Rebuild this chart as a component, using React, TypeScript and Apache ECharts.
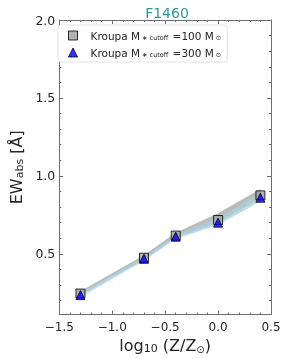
import React, { useEffect, useRef } from "react";
import * as echarts from "echarts";

const xValues = [-1.3, -0.7, -0.4, 0.0, 0.4];
const ew100 = [0.245, 0.475, 0.617, 0.717, 0.875];
const ew300 = [0.235, 0.468, 0.61, 0.7, 0.86];
const band100Hi = [0.26, 0.49, 0.635, 0.76, 0.915];
const band100Lo = [0.235, 0.465, 0.605, 0.7, 0.855];
const band300Hi = [0.25, 0.48, 0.622, 0.73, 0.89];
const band300Lo = [0.222, 0.455, 0.595, 0.685, 0.835];
const yMajorTicks = [0.5, 1.0, 1.5, 2.0];
const yMinorTicks = [0.2, 0.3, 0.4, 0.6, 0.7, 0.8, 0.9, 1.1, 1.2, 1.3, 1.4, 1.6, 1.7, 1.8, 1.9];
const legendNames = ["Kroupa 100", "Kroupa 300"];
const legendLabels = [
  "Kroupa M{sub|∗ cutoff} =100 M{sub|⊙}",
  "Kroupa M{sub|∗ cutoff} =300 M{sub|⊙}",
];

const FONT = "DejaVu Sans";
const AXIS_COLOR = "#6e6e6e";
const TEXT_COLOR = "#262626";

function bandSeries(hi: number[], lo: number[], fill: string, opacity: number) {
  return {
    type: "custom",
    silent: true,
    z: 1,
    data: [[xValues[0], lo[0]]],
    renderItem: (_params: any, api: any) => {
      const top = hi.map((v, i) => api.coord([xValues[i], v]));
      const bottom = lo.map((v, i) => api.coord([xValues[i], v])).reverse();
      return {
        type: "polygon",
        shape: { points: top.concat(bottom) },
        style: { fill, opacity },
      };
    },
  };
}

export default function App() {
  const ref = useRef<HTMLDivElement>(null);
  useEffect(() => {
    if (!ref.current) return;
    const chart = echarts.init(ref.current, null, { renderer: "svg" });
    const fmt = (v: number) => {
      const s = Math.abs(v).toFixed(1);
      return v < -1e-9 ? "\u2212" + s : s;
    };
    const yBase = {
      type: "value",
      min: 0.11,
      max: 2.0,
      splitLine: { show: false },
    };
    const xBase = {
      type: "value",
      min: -1.5,
      max: 0.5,
      interval: 0.5,
      splitLine: { show: false },
      minorSplitLine: { show: false },
    };
    chart.setOption({
      animation: false,
      title: {
        text: "F1460",
        left: 162,
        top: 1,
        textAlign: "center",
        textStyle: { color: "#2a9d9a", fontSize: 14, fontWeight: "normal", fontFamily: FONT },
      },
      legend: {
        orient: "vertical",
        left: 58,
        top: 25,
        data: legendNames,
        backgroundColor: "#ffffff",
        borderColor: "#e3e3e3",
        borderWidth: 1,
        borderRadius: 3,
        padding: [5, 6, 4, 10],
        itemGap: 6,
        itemWidth: 9,
        itemHeight: 9,
        itemStyle: { borderWidth: 1, borderColor: "#000000" },
        formatter: (name: string) => legendLabels[legendNames.indexOf(name)],
        textStyle: {
          fontFamily: FONT,
          fontSize: 10.5,
          color: TEXT_COLOR,
          padding: [0, 0, 0, 8],
          rich: {
            sub: { fontSize: 6.5, fontFamily: FONT, color: TEXT_COLOR, verticalAlign: "bottom", padding: [4, 1, 0, 2] },
          },
        },
      },
      grid: { left: 53, right: 16, top: 20, bottom: 43, containLabel: false },
      xAxis: [
        {
          ...xBase,
          position: "bottom",
          axisLine: { show: true, onZero: false, lineStyle: { color: AXIS_COLOR, width: 1 } },
          axisTick: { show: true, inside: true, length: 4, lineStyle: { color: AXIS_COLOR } },
          minorTick: { show: true, splitNumber: 5, length: 2, lineStyle: { color: AXIS_COLOR } },
          axisLabel: { formatter: fmt, fontFamily: FONT, fontSize: 12, color: TEXT_COLOR, margin: 6 },
          name: "log{sub|10} (Z/Z{sub2|⊙})",
          nameLocation: "middle",
          nameGap: 17,
          nameTextStyle: {
            fontFamily: FONT,
            fontSize: 16,
            color: TEXT_COLOR,
            rich: {
              sub: { fontSize: 11, fontFamily: FONT, color: TEXT_COLOR, verticalAlign: "bottom", padding: [6, 0, 0, 0] },
              sub2: { fontSize: 10, fontFamily: FONT, color: TEXT_COLOR, verticalAlign: "bottom", padding: [5, 0, 0, 0] },
            },
          },
        },
        {
          ...xBase,
          position: "top",
          axisLine: { show: true, onZero: false, lineStyle: { color: AXIS_COLOR, width: 1 } },
          axisTick: { show: true, inside: true, length: 4, lineStyle: { color: AXIS_COLOR } },
          minorTick: { show: true, splitNumber: 5, length: 2, lineStyle: { color: AXIS_COLOR } },
          axisLabel: { show: false },
        },
      ],
      yAxis: [
        {
          ...yBase,
          position: "left",
          axisLine: { show: true, onZero: false, lineStyle: { color: AXIS_COLOR, width: 1 } },
          axisTick: { show: true, inside: true, length: 4, customValues: yMajorTicks, lineStyle: { color: AXIS_COLOR } },
          axisLabel: {
            customValues: yMajorTicks,
            formatter: fmt,
            fontFamily: FONT,
            fontSize: 12.5,
            color: TEXT_COLOR,
            margin: 4,
          },
          name: "EW{sub|abs} [Å]",
          nameLocation: "middle",
          nameGap: 26,
          nameTextStyle: {
            fontFamily: FONT,
            fontSize: 16,
            color: TEXT_COLOR,
            rich: {
              sub: { fontSize: 11, fontFamily: FONT, color: TEXT_COLOR, verticalAlign: "bottom", padding: [6, 0, 0, 0] },
            },
          },
        },
        {
          ...yBase,
          position: "left",
          axisLine: { show: false, onZero: false },
          axisTick: { show: true, inside: true, length: 2, customValues: yMinorTicks, lineStyle: { color: AXIS_COLOR } },
          axisLabel: { show: false },
        },
        {
          ...yBase,
          position: "right",
          axisLine: { show: true, onZero: false, lineStyle: { color: AXIS_COLOR, width: 1 } },
          axisTick: { show: true, inside: true, length: 4, customValues: yMajorTicks, lineStyle: { color: AXIS_COLOR } },
          axisLabel: { show: false },
        },
        {
          ...yBase,
          position: "right",
          axisLine: { show: false, onZero: false },
          axisTick: { show: true, inside: true, length: 2, customValues: yMinorTicks, lineStyle: { color: AXIS_COLOR } },
          axisLabel: { show: false },
        },
      ],
      series: [
        bandSeries(band100Hi, band100Lo, "#b3b3b3", 0.9),
        bandSeries(band300Hi, band300Lo, "#a9d3df", 0.75),
        {
          name: legendNames[0],
          type: "scatter",
          z: 3,
          symbol: "rect",
          symbolSize: 9,
          itemStyle: { color: "#a0a0a0", borderColor: "#000000", borderWidth: 1 },
          data: xValues.map((x, i) => [x, ew100[i]]),
        },
        {
          name: legendNames[1],
          type: "scatter",
          z: 4,
          symbol: "triangle",
          symbolSize: 9,
          itemStyle: { color: "#0000ff", borderColor: "#000000", borderWidth: 1 },
          data: xValues.map((x, i) => [x, ew300[i]]),
        },
      ],
    });
    return () => chart.dispose();
  }, []);
  return <div ref={ref} style={{ position: "fixed", left: 0, top: 0, width: 287, height: 359 }} />;
}
